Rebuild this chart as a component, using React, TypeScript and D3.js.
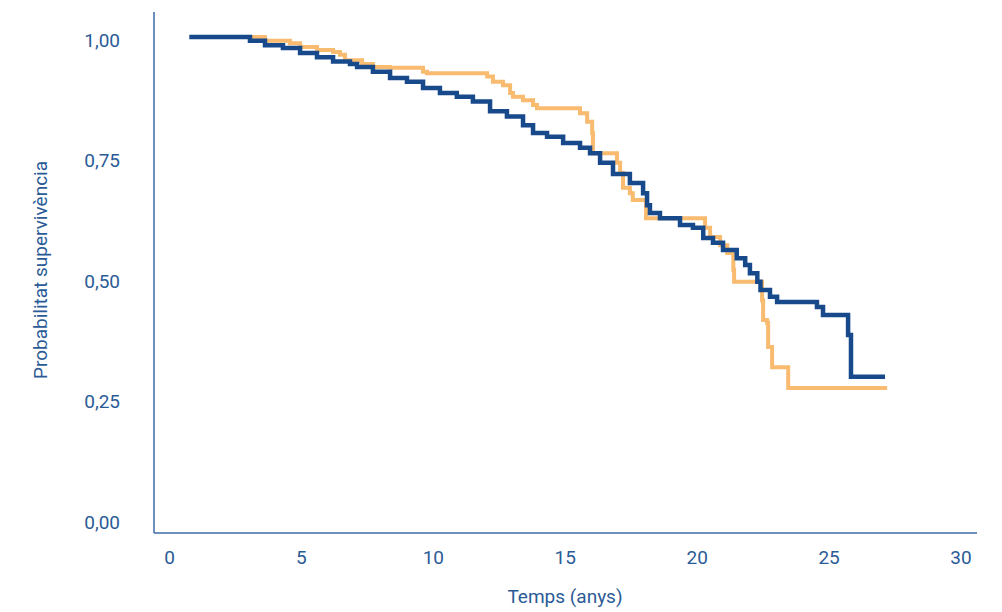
import React from "react";
import * as d3 from "d3";

// Kaplan–Meier survival estimates: [time in years, survival probability]
const groupA: [number, number][] = [
  [0.75, 1.0], [2.29, 1.0], [3.05, 0.992], [3.62, 0.983], [4.3, 0.977],
  [4.95, 0.967], [5.59, 0.958], [6.2, 0.949], [6.84, 0.944], [7.11, 0.938],
  [7.71, 0.928], [8.36, 0.915], [9.0, 0.907], [9.61, 0.894], [10.25, 0.884],
  [10.89, 0.876], [11.5, 0.866], [12.15, 0.846], [12.79, 0.835], [13.4, 0.817],
  [13.78, 0.801], [14.31, 0.793], [14.92, 0.78], [15.56, 0.77], [15.94, 0.759],
  [16.32, 0.739], [16.81, 0.716], [17.45, 0.697], [17.95, 0.676], [18.1, 0.651],
  [18.21, 0.635], [18.59, 0.624], [19.35, 0.61], [19.84, 0.604], [20.23, 0.583],
  [20.6, 0.573], [20.98, 0.558], [21.5, 0.541], [21.82, 0.527], [22.0, 0.51],
  [22.28, 0.492], [22.4, 0.475], [22.76, 0.461], [23.03, 0.45], [24.54, 0.44],
  [24.77, 0.423], [25.72, 0.382], [25.83, 0.295], [27.12, 0.295],
];

const groupB: [number, number][] = [
  [2.37, 1.0], [3.62, 0.992], [4.57, 0.987], [4.95, 0.979], [5.59, 0.973],
  [6.2, 0.969], [6.46, 0.963], [6.65, 0.952], [7.3, 0.944], [7.71, 0.938],
  [8.36, 0.936], [9.61, 0.928], [9.76, 0.925], [12.04, 0.918], [12.26, 0.907],
  [12.64, 0.9], [12.91, 0.884], [13.02, 0.876], [13.4, 0.869], [13.78, 0.859],
  [13.93, 0.852], [15.56, 0.842], [15.83, 0.824], [16.02, 0.801], [16.05, 0.759],
  [16.96, 0.739], [17.08, 0.718], [17.19, 0.687], [17.45, 0.676], [17.56, 0.662],
  [18.06, 0.624], [20.3, 0.604], [20.49, 0.585], [20.87, 0.568], [21.14, 0.552],
  [21.37, 0.517], [21.4, 0.492], [22.46, 0.454], [22.5, 0.413], [22.65, 0.407],
  [22.69, 0.357], [22.84, 0.315], [23.45, 0.272], [27.2, 0.272],
];

const xTicks = [0, 5, 10, 15, 20, 25, 30];
const yTicks = [0, 0.25, 0.5, 0.75, 1];

const xTitle = "Temps (anys)";
const yTitle = "Probabilitat supervivència";

const W = 1002;
const H = 612;
const textColor = "#2b5b97";
const axisColor = "#3b6aa6";
const fontFamily = "Roboto, 'Noto Sans', sans-serif";

export default function App() {
  const x = d3.scaleLinear().domain([0, 30]).range([169.5, 961]);
  const y = d3.scaleLinear().domain([0, 1]).range([519, 37]);

  const line = d3
    .line<[number, number]>()
    .x((d) => x(d[0]))
    .y((d) => y(d[1]))
    .curve(d3.curveStepAfter);

  const axisLeft = 154;
  const axisBottom = 533;
  const axisTop = 12;
  const axisRight = 977;

  const fmt = (v: number) => v.toFixed(2).replace(".", ",");

  return (
    <div style={{ position: "fixed", left: 0, top: 0, width: W, height: H, background: "#fff" }}>
      <svg width={W} height={H} style={{ display: "block" }} fontFamily={fontFamily}>
        {/* axes */}
        <line x1={axisLeft} y1={axisTop} x2={axisLeft} y2={axisBottom} stroke={axisColor} strokeWidth={1.5} />
        <line x1={axisLeft} y1={axisBottom} x2={axisRight} y2={axisBottom} stroke={axisColor} strokeWidth={1.5} />

        {/* y tick labels */}
        {yTicks.map((t) => (
          <text
            key={"y" + t}
            x={120}
            y={y(t) + 3}
            textAnchor="end"
            dominantBaseline="central"
            fontSize={19}
            fill={textColor}
          >
            {fmt(t)}
          </text>
        ))}

        {/* x tick labels */}
        {xTicks.map((t) => (
          <text
            key={"x" + t}
            x={x(t)}
            y={557}
            textAnchor="middle"
            dominantBaseline="central"
            fontSize={19}
            fill={textColor}
          >
            {t}
          </text>
        ))}

        {/* axis titles */}
        <text x={565} y={596} textAnchor="middle" dominantBaseline="central" fontSize={19} fill={textColor}>
          {xTitle}
        </text>
        <text
          transform={`translate(40,270) rotate(-90)`}
          textAnchor="middle"
          dominantBaseline="central"
          fontSize={19}
          fill={textColor}
        >
          {yTitle}
        </text>

        {/* survival curves */}
        <path d={line(groupB) ?? ""} fill="none" stroke="#f8bb6f" strokeWidth={4} strokeLinejoin="miter" />
        <path d={line(groupA) ?? ""} fill="none" stroke="#184a8b" strokeWidth={4.5} strokeLinejoin="miter" />
      </svg>
    </div>
  );
}
